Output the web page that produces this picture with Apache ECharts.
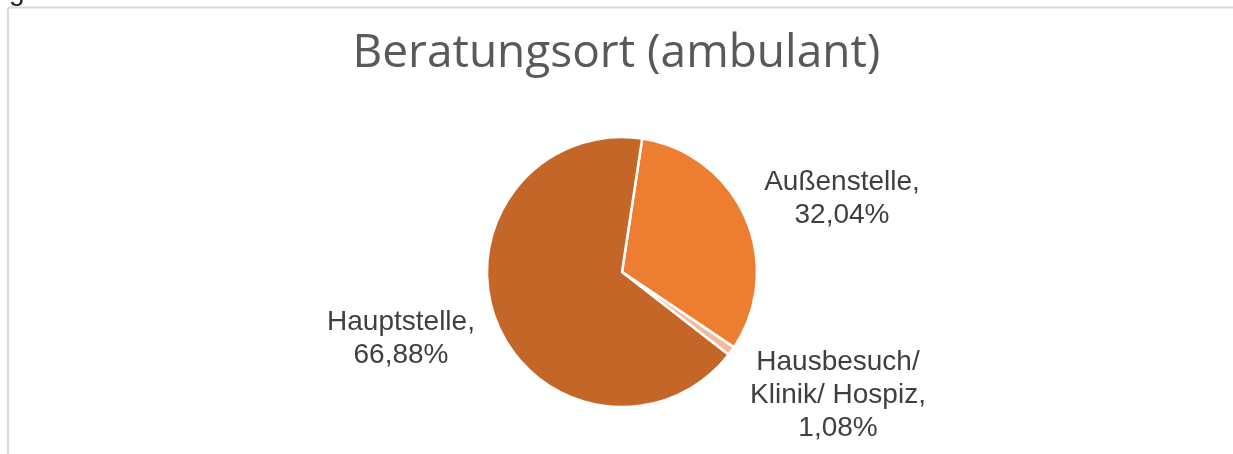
<!DOCTYPE html>
<html>
<head>
<meta charset="utf-8">
<script src="https://cdn.jsdelivr.net/npm/echarts@6/dist/echarts.min.js"></script>
<style>
html,body{margin:0;padding:0;background:#fff;}
#chart{width:1233px;height:454px;}
</style>
</head>
<body>
<div id="chart"></div>
<script>
var titleText = 'Beratungsort (ambulant)';
var categories = ['Außenstelle', 'Hausbesuch/ Klinik/ Hospiz', 'Hauptstelle'];
var values = [32.04, 1.08, 66.88];
var colors = ['#ED7D31', '#F4B99F', '#C46628'];
var labelPos = {
  'Außenstelle': [842, 199],
  'Hausbesuch/ Klinik/ Hospiz': [838, 395],
  'Hauptstelle': [401, 339]
};

var chart = echarts.init(document.getElementById('chart'), null, {renderer: 'canvas'});
var data = categories.map(function (c, i) {
  return {name: c, value: values[i], itemStyle: {color: colors[i]}};
});

chart.setOption({
  backgroundColor: '#fff',
  animation: false,
  title: {
    text: titleText,
    left: 'center',
    top: 26,
    textStyle: {
      fontFamily: 'Open Sans',
      fontSize: 46,
      fontWeight: 'normal',
      color: '#595959'
    }
  },
  graphic: [
    {type: 'line', shape: {x1: 8, y1: 7.5, x2: 1233, y2: 7.5}, style: {stroke: '#D9D9D9', lineWidth: 2}},
    {type: 'line', shape: {x1: 8, y1: 7.5, x2: 8, y2: 454}, style: {stroke: '#D9D9D9', lineWidth: 2}},
    {type: 'text', left: 9, top: -22, style: {text: 'g', font: '28px "Liberation Sans"', fill: '#222'}}
  ],
  series: [{
    type: 'pie',
    center: [622, 272],
    radius: [0, 135],
    startAngle: 81.4,
    clockwise: true,
    data: data,
    itemStyle: {borderColor: '#fff', borderWidth: 2.5},
    label: {
      show: true,
      position: 'outside',
      fontFamily: 'Liberation Sans',
      fontSize: 28,
      lineHeight: 33,
      color: '#3F3F3F',
      align: 'center',
      formatter: function (p) {
        var n = p.name.replace('Hausbesuch/ ', 'Hausbesuch/\n');
        return n + ',\n' + p.value.toFixed(2).replace('.', ',') + '%';
      }
    },
    labelLine: {show: false},
    labelLayout: function (params) {
      var pos = labelPos[categories[params.dataIndex]];
      return {x: pos[0], y: pos[1], align: 'center', verticalAlign: 'middle'};
    },
    emphasis: {disabled: true}
  }]
});
</script>
</body>
</html>
